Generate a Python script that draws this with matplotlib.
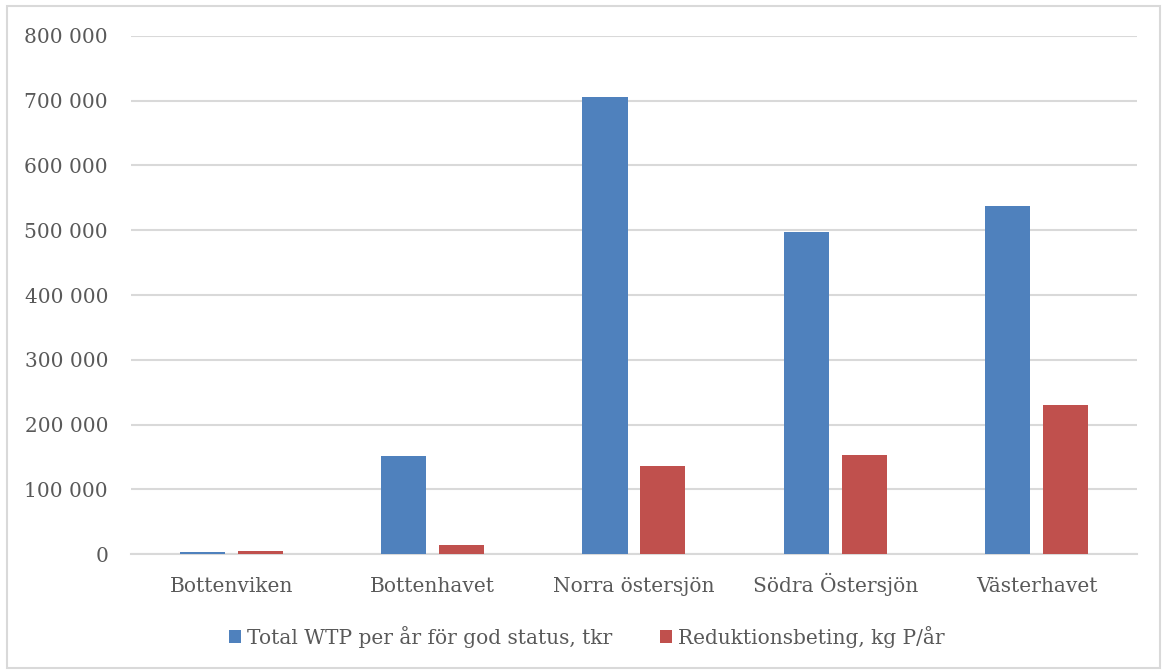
import numpy as np
import matplotlib
matplotlib.use("Agg")
import matplotlib.pyplot as plt
from matplotlib.patches import Rectangle
from matplotlib.ticker import FuncFormatter

# regions and the two series
regions = ["Bottenviken", "Bottenhavet", "Norra östersjön", "Södra Östersjön", "Västerhavet"]
wtp_tkr = [3000, 151000, 705000, 497000, 537000]
reduktion_kg = [5000, 14000, 136000, 153000, 230000]
series_names = ["Total WTP per år för god status, tkr", "Reduktionsbeting, kg P/år"]
yticks = np.arange(0, 800001, 100000)

BLUE = "#4F81BD"
RED = "#C0504D"
GRID = "#D9D9D9"
TEXT = "#595959"
FS = 14.5

plt.rcParams["font.family"] = ["DejaVu Serif", "Liberation Serif"]

fig = plt.figure(figsize=(11.62, 6.70), dpi=100)
ax = fig.add_axes([0.1127, 0.1731, 0.8658, 0.7732])

x = np.arange(len(regions))
w = 0.224
off = 0.144
ax.bar(x - off, wtp_tkr, width=w, color=BLUE, label=series_names[0], zorder=3)
ax.bar(x + off, reduktion_kg, width=w, color=RED, label=series_names[1], zorder=3)

ax.set_xlim(-0.5, len(regions) - 0.5)
ax.set_ylim(0, 800000)
ax.set_yticks(yticks)
ax.yaxis.set_major_formatter(FuncFormatter(lambda v, p: f"{int(v):,}".replace(",", " ")))
ax.set_xticks(x)
ax.set_xticklabels(regions, va="baseline")
ax.tick_params(axis="both", length=0, labelsize=FS, colors=TEXT)
ax.tick_params(axis="y", pad=16.5)
ax.tick_params(axis="x", pad=27)

ax.grid(axis="y", color=GRID, linewidth=1.5, zorder=0)
for side in ["top", "right", "left"]:
    ax.spines[side].set_visible(False)
ax.spines["bottom"].set_color(GRID)
ax.spines["bottom"].set_linewidth(1.5)

fig.legend(loc="center", bbox_to_anchor=(0.505, 0.05), ncol=2, frameon=False,
           fontsize=FS, labelcolor=TEXT, handlelength=0.6, handleheight=0.6,
           handletextpad=0.3, columnspacing=2.4)

# light frame around the whole chart
fig.patches.append(Rectangle((0.006, 0.003), 0.992, 0.988, transform=fig.transFigure,
                             fill=False, edgecolor=GRID, linewidth=1.5))

fig.savefig("out.png", dpi=100)
